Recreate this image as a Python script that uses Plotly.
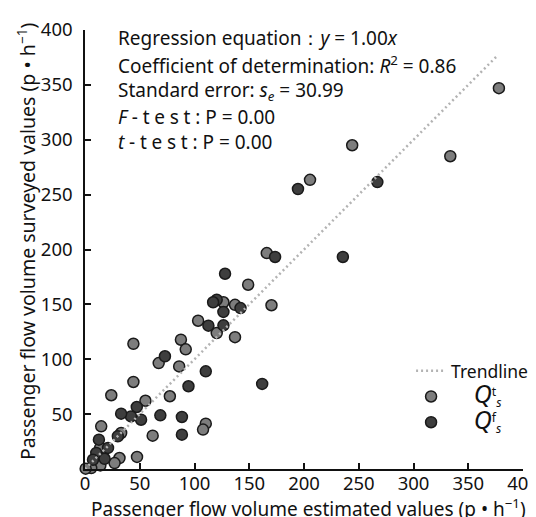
import plotly.graph_objects as go

# Q_s^t (light grey) points: estimated (x) vs surveyed (y)
qt_est = [378, 333.6, 244, 205.5, 166, 149, 126.4, 137, 170.3, 103.3, 120.3, 137, 87.6, 92,
          44.2, 67.3, 86, 44.2, 77.5, 55.2, 24, 110.3, 107.8, 61.8, 14.8, 33, 13.9, 31.5,
          27, 47.5, 14, 5.7, 0.6]
qt_srv = [347, 285, 295, 263.5, 196.7, 167.9, 151.9, 149.6, 149.2, 135.1, 123.9, 120.1, 117.8, 109,
          114.1, 96.5, 93.5, 79.3, 66.3, 62.2, 67.2, 41.3, 35.9, 30.4, 38.9, 32.8, 19.2, 10,
          5.4, 11, 3.3, 0.8, 0.3]

# Q_s^f (dark grey) points
qf_est = [194.5, 267, 173.6, 235.5, 127.9, 120.3, 117, 142, 126.4, 112.7, 126.4, 73, 110.3,
          94.5, 161.8, 47.3, 42, 51.2, 68.8, 88.5, 88.5, 33, 30, 12.7, 21, 10.3, 17.9, 7.3]
qf_srv = [255.1, 261.4, 193.2, 193.2, 177.9, 154.2, 151.9, 146.6, 143.1, 130.6, 130.9, 102.7, 89,
          75.4, 77.5, 56.5, 47.9, 44.9, 48.9, 47.4, 31.3, 50.4, 29.8, 26.7, 19.2, 14.6, 9.3, 8.4]

trend_x = [0, 376]
trend_y = [0, 376]

x_ticks = [0, 50, 100, 150, 200, 250, 300, 350, 400]
y_ticks = [50, 100, 150, 200, 250, 300, 350, 400]

FONT = "Noto Sans"
NB = "\u00a0"
SP = "\u2005"
W, H = 536, 517
L, R, T, B = 77, 21, 22, 56
PW, PH = W - L - R, H - T - B

fig = go.Figure()

marker_line = dict(color="#1a1a1a", width=1.5)
fig.add_trace(go.Scatter(
    x=qt_est, y=qt_srv, mode="markers", legendrank=2,
    name=NB * 5 + "<span style='font-size:25px'><i>Q</i></span><sup>t</sup><sub><i>s</i></sub>",
    marker=dict(size=11, color="#7d7d7d", line=marker_line), cliponaxis=False))
fig.add_trace(go.Scatter(
    x=qf_est, y=qf_srv, mode="markers", legendrank=3,
    name=NB * 5 + "<span style='font-size:25px'><i>Q</i></span><sup>f</sup><sub><i>s</i></sub>",
    marker=dict(size=11, color="#3e3e3e", line=marker_line), cliponaxis=False))
fig.add_trace(go.Scatter(
    x=trend_x, y=trend_y, mode="lines", name="Trendline", legendrank=1,
    line=dict(color="#b3b3b3", width=2.5, dash="2px,3px")))

lines = [
    "Regression equation：<i>y</i> = 1.00<i>x</i>",
    "Coefficient of determination: <i>R</i><sup>2</sup> = 0.86",
    "Standard error: <i>s</i><sub><i>e</i></sub> = 30.99",
    "<i>F</i>" + SP + "-" + SP + SP.join("test") + SP + ": P = 0.00",
    "<i>t</i>" + SP + "-" + SP + SP.join("test") + SP + ": P = 0.00",
]
line_y = [30, 57, 83, 109, 134]
for txt, yy in zip(lines, line_y):
    fig.add_annotation(text=txt, xref="paper", yref="paper",
                       x=(108 - L) / PW, y=(H - B - yy) / PH,
                       xanchor="left", yanchor="middle", showarrow=False,
                       font=dict(family=FONT, size=19, color="#111"))

# axis titles
fig.add_annotation(text="Passenger flow volume estimated values (p • h<sup>−1</sup>)",
                   xref="paper", yref="paper", x=(300 - L) / PW, y=(H - B - 500) / PH,
                   xanchor="center", yanchor="middle", showarrow=False,
                   font=dict(family=FONT, size=19, color="#111"))
fig.add_annotation(text="Passenger flow volume surveyed values (p • h<sup>−1</sup>)",
                   xref="paper", yref="paper", x=(19 - L) / PW, y=(H - B - 233) / PH,
                   xanchor="center", yanchor="middle", showarrow=False, textangle=-90,
                   font=dict(family=FONT, size=19.5, color="#111"))

fig.update_layout(
    width=W, height=H,
    margin=dict(l=L, r=R, t=T, b=B, autoexpand=False),
    paper_bgcolor="white", plot_bgcolor="white",
    font=dict(family=FONT, size=19, color="#111"),
    showlegend=True,
    legend=dict(x=0.752, y=0.333, xref="container", yref="container",
                xanchor="left", yanchor="top",
                bgcolor="rgba(0,0,0,0)", font=dict(size=17.5),
                tracegroupgap=0, itemwidth=30),
)
fig.update_xaxes(range=[0, 400], tickvals=x_ticks, ticks="inside", ticklen=6, tickwidth=1.5,
                 tickcolor="#111", showline=True, linecolor="#111", linewidth=1.5,
                 showgrid=False, zeroline=False, tickfont=dict(size=18.5), automargin=False,
                 ticklabelstandoff=-3)
fig.update_yaxes(range=[0, 400], tickvals=y_ticks, ticks="inside", ticklen=6, tickwidth=1.5,
                 tickcolor="#111", showline=True, linecolor="#111", linewidth=1.5,
                 showgrid=False, zeroline=False, tickfont=dict(size=18.5), automargin=False,
                 ticklabelstandoff=7)

fig.write_html("out.html")
